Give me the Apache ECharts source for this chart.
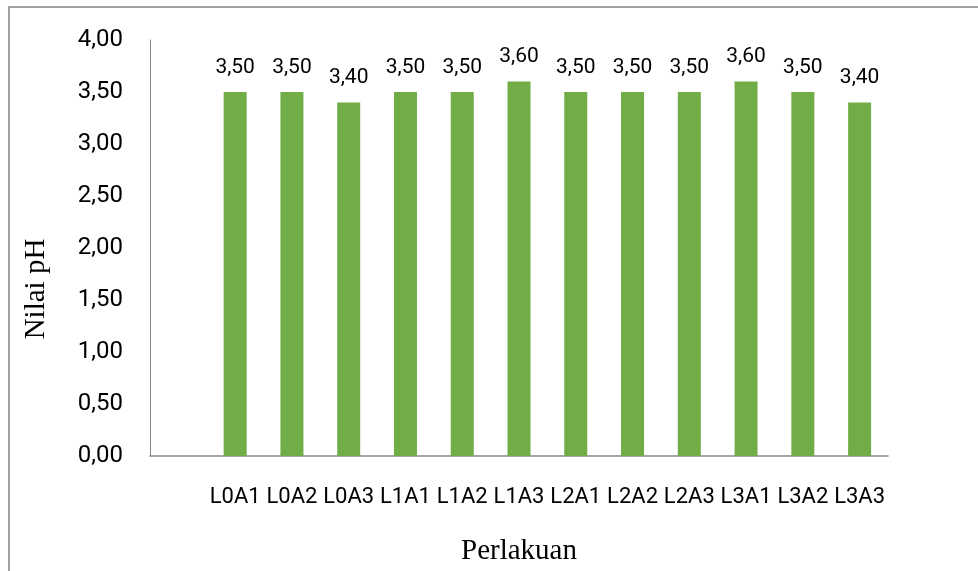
<!DOCTYPE html>
<html>
<head>
<meta charset="utf-8">
<script src="https://cdn.jsdelivr.net/npm/echarts@6/dist/echarts.min.js"></script>
<style>
  html, body { margin: 0; padding: 0; background: #fff; }
  #chart { width: 978px; height: 571px; }
</style>
</head>
<body>
<div id="chart"></div>
<script>
  // perlakuan (first slot is empty in the original sheet)
  var categories = ['', 'L0A1', 'L0A2', 'L0A3', 'L1A1', 'L1A2', 'L1A3',
                    'L2A1', 'L2A2', 'L2A3', 'L3A1', 'L3A2', 'L3A3'];
  // nilai pH
  var phValues = [null, 3.5, 3.5, 3.4, 3.5, 3.5, 3.6, 3.5, 3.5, 3.5, 3.6, 3.5, 3.4];

  function koma(v) {
    return Number(v).toFixed(2).replace('.', ',');
  }

  var myChart = echarts.init(document.getElementById('chart'));
  myChart.setOption({
    animation: false,
    grid: { left: 150, right: 90, top: 40, bottom: 115, outerBoundsMode: 'none' },
    graphic: [
      {
        type: 'rect',
        shape: { x: 9, y: 7, width: 1000, height: 600 },
        style: { fill: 'none', stroke: '#a0a0a0', lineWidth: 2 },
        silent: true
      },
      {
        type: 'text',
        x: 36, y: 289,
        rotation: Math.PI / 2,
        style: {
          text: 'Nilai pH',
          font: '29px "Liberation Serif"',
          fill: '#000',
          align: 'center',
          verticalAlign: 'middle'
        }
      }
    ],
    xAxis: {
      type: 'category',
      data: categories,
      name: 'Perlakuan',
      nameLocation: 'middle',
      nameGap: 81,
      nameTextStyle: { fontFamily: 'Liberation Serif', fontSize: 29, color: '#000' },
      axisLine: { show: true, lineStyle: { color: '#888', width: 1.5 } },
      axisTick: { show: false },
      axisLabel: {
        interval: 0,
        margin: 30,
        fontFamily: 'Roboto',
        fontSize: 22,
        color: '#000'
      }
    },
    yAxis: {
      type: 'value',
      min: 0,
      max: 4,
      interval: 0.5,
      axisLine: { show: true, lineStyle: { color: '#888', width: 1 } },
      axisTick: { show: false },
      splitLine: { show: false },
      axisLabel: {
        margin: 27,
        fontFamily: 'Roboto',
        fontSize: 24,
        color: '#000',
        formatter: koma
      }
    },
    series: [{
      type: 'bar',
      data: phValues,
      barWidth: 23,
      itemStyle: { color: '#70ad47' },
      label: {
        show: true,
        position: 'top',
        distance: 14,
        fontFamily: 'Roboto',
        fontSize: 21,
        color: '#000',
        formatter: function (p) { return koma(p.value); }
      }
    }]
  });
</script>
</body>
</html>
